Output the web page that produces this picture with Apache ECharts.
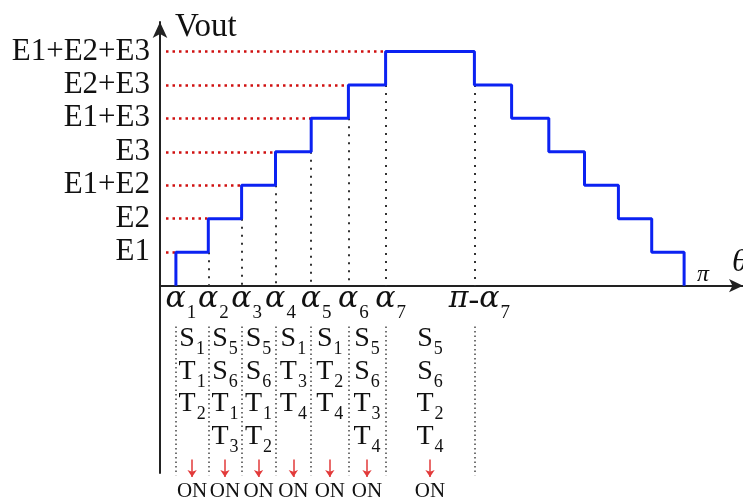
<!DOCTYPE html>
<html>
<head>
<meta charset="utf-8">
<script src="https://cdn.jsdelivr.net/npm/echarts@6/dist/echarts.min.js"></script>
<style>
html, body { margin: 0; padding: 0; background: #fff; }
#main { width: 743px; height: 501px; }
</style>
</head>
<body>
<div id="main"></div>
<script>
// switching angles, degrees (pi = 180)
var alphas = [5.3, 16.1, 27.2, 38.5, 50.4, 62.8, 75.2];
var alphaNames = ['1', '2', '3', '4', '5', '6', '7'];
// output voltage levels
var levels = [1, 2, 3, 4, 5, 6, 7];
var levelNames = ['E1', 'E2', 'E1+E2', 'E3', 'E1+E3', 'E2+E3', 'E1+E2+E3'];
// switches that are ON in each interval (alpha1..alpha2, ..., alpha7..pi-alpha7)
var switchCols = [
    ['S1', 'T1', 'T2'],
    ['S5', 'S6', 'T1', 'T3'],
    ['S5', 'S6', 'T1', 'T2'],
    ['S1', 'T3', 'T4'],
    ['S1', 'T2', 'T4'],
    ['S5', 'S6', 'T3', 'T4'],
    ['S5', 'S6', 'T2', 'T4']
];
var rowY = [-1.58, -2.57, -3.53, -4.51];

var PI = 180;
var X_END = 194.33;
var chart = echarts.init(document.getElementById('main'));
var serif = 'Liberation Serif';
var mathFont = 'DejaVu Serif';

// staircase waveform
var wave = [];
alphas.forEach(function (a, i) {
    wave.push([a, levels[i] - 1]);
    wave.push([a, levels[i]]);
});
for (var i = alphas.length - 1; i >= 0; i--) {
    wave.push([PI - alphas[i], levels[i]]);
    wave.push([PI - alphas[i], levels[i] - 1]);
}

// red dotted guides to the level labels
var redGuides = levels.map(function (k, i) {
    return { coords: [[2, k], [alphas[i], k]] };
});

// black dotted drops from each step to the axis
var drops = [];
for (var i = 1; i < alphas.length; i++) {
    drops.push({ coords: [[alphas[i], levels[i - 1]], [alphas[i], 0]] });
}
drops.push({ coords: [[PI - alphas[6], levels[5]], [PI - alphas[6], 0]] });

// column separators of the switch table
var seps = alphas.concat([PI - alphas[6]]).map(function (a) {
    return { coords: [[a, -1.22], [a, -5.67]] };
});

var cells = [], onMarks = [], arrows = [];
switchCols.forEach(function (col, c) {
    var right = c < alphas.length - 1 ? alphas[c + 1] : PI - alphas[6];
    var cx = (alphas[c] + right) / 2;
    col.forEach(function (name, r) {
        cells.push([cx, rowY[r], name]);
    });
    onMarks.push([cx, -6.16, 'ON']);
    arrows.push({ coords: [[cx, -5.2], [cx, -5.72]] });
});

// angle labels under the axis
var angleMarks = alphas.map(function (a, i) { return [a, 0, 'α', alphaNames[i]]; });
angleMarks.push([PI - alphas[6], 0, 'π-α', '7']);

var subRich = function (main, sub, mainSize, subSize, pad, mainStyle) {
    var o = {};
    o[main] = Object.assign({ fontFamily: serif, fontSize: mainSize, lineHeight: mainSize, verticalAlign: 'top', color: '#111' }, mainStyle || {});
    o[sub] = { fontFamily: serif, fontSize: subSize, lineHeight: subSize, verticalAlign: 'top', color: '#111', padding: [pad, 0, 0, 1] };
    return o;
};

var angleRich = subRich('a', 's', 30, 19, 19, { fontFamily: mathFont, fontStyle: 'italic' });
angleRich.h = { fontFamily: serif, fontSize: 32, lineHeight: 30, verticalAlign: 'top', color: '#111' };

var textScatter = function (data, label) {
    return {
        type: 'scatter',
        data: data,
        clip: false,
        silent: true,
        symbolSize: 1,
        itemStyle: { color: 'rgba(0,0,0,0)', opacity: 1 },
        label: Object.assign({ show: true, position: 'inside', color: '#111' }, label)
    };
};

var option = {
    animation: false,
    grid: { left: 160, right: 0, top: 22, bottom: 28, containLabel: false, outerBoundsMode: 'none' },
    xAxis: {
        type: 'value',
        min: 0,
        max: X_END,
        axisLine: { onZero: true, symbol: ['none', 'arrow'], symbolSize: [10, 14], lineStyle: { color: '#222', width: 2 } },
        axisTick: { show: false },
        splitLine: { show: false },
        axisLabel: { show: false }
    },
    yAxis: {
        type: 'value',
        min: -5.6,
        max: 7.88,
        name: 'Vout',
        nameLocation: 'end',
        nameGap: -5,
        nameTextStyle: { fontFamily: serif, fontSize: 33, color: '#111', align: 'left', verticalAlign: 'middle', padding: [0, 0, 0, 15] },
        axisLine: { onZero: true, symbol: ['none', 'arrow'], symbolSize: [11, 16], lineStyle: { color: '#222', width: 2 } },
        axisTick: { show: false },
        splitLine: { show: false },
        axisLabel: {
            customValues: levels,
            margin: 10,
            fontFamily: serif,
            fontSize: 31,
            color: '#111',
            formatter: function (v) {
                return levelNames[levels.indexOf(Math.round(v))] || '';
            }
        }
    },
    series: [
        {
            type: 'lines',
            coordinateSystem: 'cartesian2d',
            clip: false,
            data: redGuides,
            lineStyle: { color: '#d01010', width: 2.5, opacity: 1, type: [2.5, 4] }
        },
        {
            type: 'lines',
            coordinateSystem: 'cartesian2d',
            clip: false,
            data: drops,
            lineStyle: { color: '#333', width: 2, opacity: 1, type: [2, 6] }
        },
        {
            type: 'lines',
            coordinateSystem: 'cartesian2d',
            clip: false,
            data: seps,
            lineStyle: { color: '#444', width: 1.5, opacity: 1, type: [1.5, 3] }
        },
        {
            type: 'line',
            data: wave,
            showSymbol: false,
            clip: false,
            lineStyle: { color: '#0b22f2', width: 3 },
            z: 5
        },
        {
            type: 'lines',
            coordinateSystem: 'cartesian2d',
            clip: false,
            data: arrows,
            symbol: ['none', 'arrow'],
            symbolSize: 7,
            lineStyle: { color: '#e23a3a', width: 1.5, opacity: 1 }
        },
        textScatter(cells, {
            formatter: function (p) {
                var t = p.data[2];
                return '{m|' + t.charAt(0) + '}{s|' + t.slice(1) + '}';
            },
            rich: subRich('m', 's', 28, 18, 16)
        }),
        textScatter(angleMarks, {
            offset: [5, 14],
            formatter: function (p) {
                var main = p.data[2];
                if (main.length > 1) return '{a|π}{h|-}{a|α}{s|' + p.data[3] + '}';
                return '{a|' + main + '}{s|' + p.data[3] + '}';
            },
            rich: angleRich
        }),
        textScatter(onMarks, {
            formatter: function (p) { return p.data[2]; },
            fontFamily: serif,
            fontSize: 21
        }),
        textScatter([[PI, 0, 'π']], {
            offset: [3, -11],
            formatter: function (p) { return p.data[2]; },
            fontFamily: serif,
            fontStyle: 'italic',
            fontSize: 24
        }),
        textScatter([[X_END, 0, 'θ']], {
            offset: [-11, -23],
            align: 'left',
            formatter: function (p) { return p.data[2]; },
            fontFamily: serif,
            fontStyle: 'italic',
            fontSize: 32
        })
    ]
};
chart.setOption(option);
</script>
</body>
</html>
